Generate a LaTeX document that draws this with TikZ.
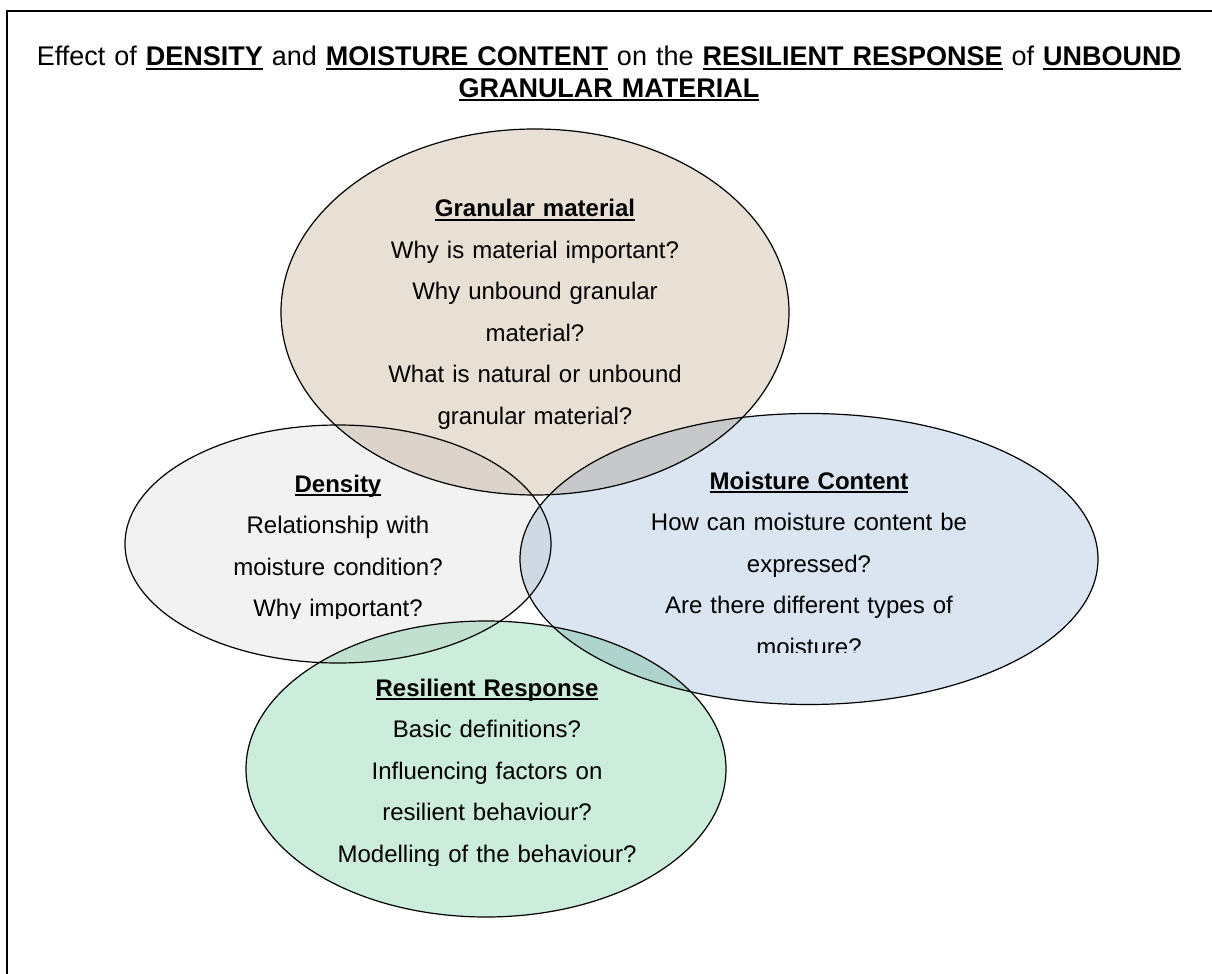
\documentclass[tikz,border=0pt]{standalone}
\usepackage{fontspec}
\setmainfont{Liberation Sans}
\usetikzlibrary{shapes.geometric}

\definecolor{granfill}{RGB}{232,223,213}
\definecolor{densfill}{RGB}{242,242,242}
\definecolor{moistfill}{RGB}{219,229,241}
\definecolor{resilfill}{RGB}{204,237,219}

\newsavebox{\kwbox}
\newcommand{\keyword}[1]{\textbf{\sbox{\kwbox}{#1}\rlap{\rule[-1.9pt]{\wd\kwbox}{0.8pt}}\usebox{\kwbox}}}

\tikzstyle{bubble} = [draw, ellipse, inner sep=0pt, line width=0.6pt]
\tikzstyle{heading} = [text width=580pt, align=center, anchor=base, inner sep=0pt,
                       font=\fontsize{13.5pt}{15.65pt}\selectfont]
\tikzstyle{question} = [text width=220pt, align=center, anchor=base, inner sep=0pt,
                        font=\fontsize{12pt}{20.75pt}\selectfont]

\begin{document}
\begin{tikzpicture}[x=0.5pt,y=-0.5pt]
  \useasboundingbox (0,0) rectangle (1212,974);
  \draw[line width=1pt] (7,974) -- (7,11) -- (1212,11);

  \node[heading] at (609,66) (title) {Effect of \keyword{DENSITY} and \keyword{MOISTURE CONTENT} on the
    \keyword{RESILIENT RESPONSE} of \keyword{UNBOUND}\\ \keyword{GRANULAR MATERIAL}};

  \begin{scope}[blend group=multiply]
    \node[bubble,fill=granfill,minimum width=254pt,minimum height=183pt] at (535,312) (gran) {};
    \node[bubble,fill=densfill,minimum width=213pt,minimum height=119pt] at (338,544) (dens) {};
    \node[bubble,fill=moistfill,minimum width=289pt,minimum height=145.5pt] at (809,559) (moist) {};
    \node[bubble,fill=resilfill,minimum width=240pt,minimum height=148pt] at (486,769) (resil) {};
  \end{scope}

  \node[question] at (535,217) (granTxt) {\keyword{Granular material}\\ Why is material important?\\
    Why unbound granular\\ material?\\ What is natural or unbound\\ granular material?};

  \begin{scope}
    \clip (0,0) rectangle (1212,618);
    \node[question] at (338,492) (densTxt) {\keyword{Density}\\ Relationship with\\
      moisture condition?\\ Why important?};
  \end{scope}
  \begin{scope}
    \clip (0,0) rectangle (1212,652);
    \node[question] at (809,489) (moistTxt) {\keyword{Moisture Content}\\ How can moisture content be\\
      expressed?\\ Are there different types of\\ moisture?};
  \end{scope}
  \begin{scope}
    \clip (0,0) rectangle (1212,865);
    \node[question] at (487,696) (resilTxt) {\keyword{Resilient Response}\\ Basic definitions?\\
      Influencing factors on\\ resilient behaviour?\\ Modelling of the behaviour?};
  \end{scope}
\end{tikzpicture}
\end{document}
